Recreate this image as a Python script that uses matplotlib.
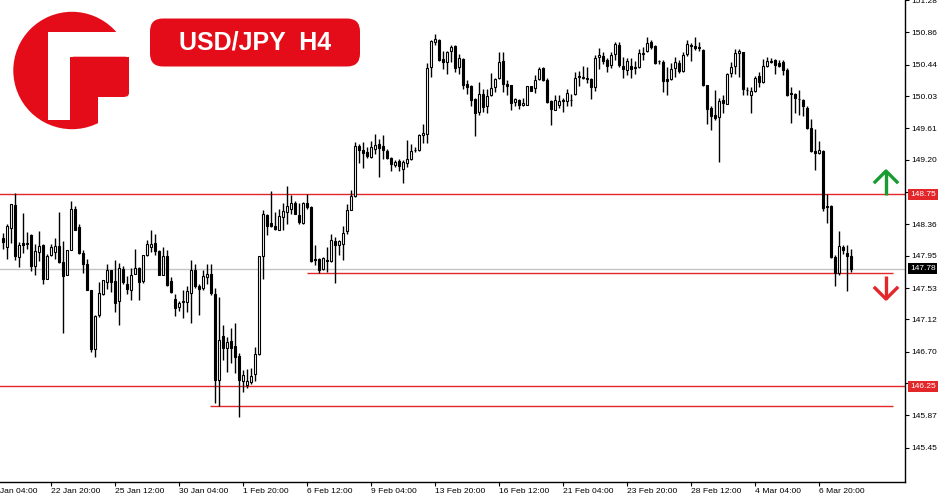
import numpy as np
import matplotlib
matplotlib.use("Agg")
import matplotlib.pyplot as plt
from matplotlib.patches import Circle, Rectangle, FancyBboxPatch
from matplotlib.transforms import blended_transform_factory

plt.rcParams["font.family"] = ["Liberation Sans", "DejaVu Sans"]

# ----------------------------
# H4 candles
# ----------------------------
opens = [
    148.182, 148.065, 148.312, 148.607, 147.935, 148.117, 148.108, 148.217, 147.818, 148.000,
    148.087, 147.649, 147.957, 148.000, 148.074, 147.870, 147.705, 148.030, 148.564, 148.325,
    147.987, 147.848, 147.502, 146.730, 147.176, 147.458, 147.610, 147.762, 147.623, 147.363,
    147.783, 147.580, 147.502, 147.718, 147.796, 147.623, 147.957, 148.065, 148.117, 148.009,
    147.705, 147.944, 147.619, 147.385, 147.285, 147.350, 147.350, 147.471, 147.770, 147.554,
    147.536, 147.675, 147.718, 147.458, 146.331, 146.903, 146.743, 146.838, 146.778, 146.643,
    146.318, 146.266, 146.305, 146.405, 146.669, 147.952, 148.477, 148.377, 148.334, 148.290,
    148.455, 148.520, 148.564, 148.637, 148.485, 148.377, 148.637, 148.585, 147.905, 147.913,
    147.783, 147.900, 147.883, 148.139, 148.095, 148.108, 148.273, 148.550, 148.724, 149.374,
    149.331, 149.296, 149.235, 149.344, 149.400, 149.374, 149.309, 149.227, 149.135, 149.179,
    149.083, 149.157, 149.214, 149.331, 149.322, 149.517, 149.538, 150.405, 150.730, 150.765,
    150.514, 150.470, 150.613, 150.687, 150.405, 150.514, 150.180, 150.154, 149.993, 149.820,
    150.050, 149.894, 150.037, 150.145, 150.262, 150.492, 150.180, 150.167, 149.950, 149.972,
    149.907, 149.915, 150.154, 150.132, 150.253, 150.396, 150.232, 149.963, 149.850, 149.915,
    149.980, 149.963, 149.972, 150.050, 150.275, 150.275, 150.266, 150.245, 150.145, 150.544,
    150.557, 150.501, 150.435, 150.579, 150.696, 150.427, 150.375, 150.427, 150.405, 150.405,
    150.579, 150.613, 150.739, 150.687, 150.492, 150.479, 150.245, 150.245, 150.392, 150.457,
    150.353, 150.579, 150.700, 150.687, 150.674, 150.631, 150.167, 149.876, 149.777, 149.755,
    149.972, 149.928, 150.327, 150.418, 150.590, 150.600, 150.110, 150.045, 150.089, 150.284,
    150.210, 150.418, 150.483, 150.501, 150.457, 150.470, 150.371, 150.067, 150.050, 149.993,
    149.980, 149.872, 149.612, 149.309, 149.287, 149.309, 148.598, 148.598, 147.935, 147.726,
    148.065, 147.987, 147.943,
]
highs = [
    148.247, 148.368, 148.629, 148.767, 148.130, 148.507, 148.260, 148.230, 148.100, 148.273,
    148.108, 147.970, 148.108, 148.186, 148.516, 148.139, 148.030, 148.663, 148.594, 148.368,
    148.022, 147.913, 147.510, 147.176, 147.610, 147.640, 147.848, 147.770, 147.900, 147.857,
    147.814, 147.684, 147.796, 148.043, 147.805, 147.965, 148.160, 148.290, 148.230, 148.022,
    148.065, 148.022, 147.675, 147.458, 147.363, 147.502, 147.554, 147.892, 147.848, 147.588,
    147.770, 147.848, 147.848, 147.536, 147.415, 147.046, 146.895, 147.003, 147.068, 146.687,
    146.461, 146.470, 146.483, 146.765, 147.952, 148.551, 148.490, 148.793, 148.520, 148.564,
    148.637, 148.854, 148.737, 148.663, 148.637, 148.650, 148.750, 148.598, 148.087, 147.926,
    147.935, 148.065, 148.230, 148.195, 148.152, 148.334, 148.628, 148.810, 149.430, 149.409,
    149.430, 149.365, 149.443, 149.539, 149.474, 149.517, 149.344, 149.235, 149.201, 149.214,
    149.201, 149.461, 149.400, 149.365, 149.539, 149.660, 150.457, 150.765, 150.839, 150.774,
    150.613, 150.613, 150.700, 150.700, 150.579, 150.527, 150.232, 150.167, 150.006, 150.210,
    150.123, 150.123, 150.327, 150.266, 150.609, 150.609, 150.240, 150.176, 150.002, 149.985,
    150.006, 150.162, 150.158, 150.297, 150.405, 150.405, 150.266, 149.972, 150.037, 150.037,
    150.006, 150.123, 150.058, 150.349, 150.362, 150.427, 150.414, 150.266, 150.566, 150.657,
    150.600, 150.527, 150.600, 150.730, 150.739, 150.535, 150.527, 150.527, 150.492, 150.644,
    150.665, 150.804, 150.765, 150.696, 150.501, 150.501, 150.405, 150.457, 150.544, 150.501,
    150.600, 150.765, 150.717, 150.804, 150.730, 150.644, 150.176, 149.894, 150.110, 150.002,
    150.037, 150.327, 150.470, 150.644, 150.644, 150.609, 150.145, 150.145, 150.284, 150.340,
    150.514, 150.535, 150.527, 150.514, 150.501, 150.501, 150.397, 150.145, 150.067, 150.102,
    149.993, 149.894, 149.733, 149.603, 149.439, 149.322, 148.758, 148.606, 147.956, 148.268,
    148.095, 148.087, 148.043,
]
lows = [
    148.043, 147.905, 148.117, 147.892, 147.805, 147.987, 148.043, 147.753, 147.697, 147.883,
    147.588, 147.645, 147.944, 147.913, 147.857, 146.947, 147.697, 148.022, 148.282, 147.978,
    147.727, 147.502, 146.691, 146.626, 147.155, 147.436, 147.523, 147.480, 147.220, 147.046,
    147.588, 147.458, 147.372, 147.710, 147.380, 147.597, 147.944, 148.000, 147.957, 147.697,
    147.697, 147.554, 147.471, 147.163, 147.233, 147.133, 147.220, 147.068, 147.536, 147.176,
    147.510, 147.588, 147.436, 146.036, 145.993, 146.591, 146.440, 146.557, 146.427, 145.854,
    146.180, 146.223, 146.279, 146.323, 146.656, 147.653, 148.217, 148.325, 148.282, 148.282,
    148.282, 148.368, 148.499, 148.490, 148.368, 148.368, 148.564, 147.870, 147.827, 147.727,
    147.770, 147.740, 147.870, 147.597, 147.956, 147.900, 148.238, 148.542, 148.715, 149.157,
    149.096, 149.227, 149.227, 149.279, 148.975, 149.214, 149.214, 149.053, 149.105, 149.053,
    148.897, 149.105, 149.201, 149.300, 149.313, 149.417, 149.417, 150.275, 150.700, 150.492,
    150.383, 150.310, 150.470, 150.340, 150.318, 150.123, 150.050, 149.894, 149.508, 149.785,
    149.820, 149.811, 150.024, 150.080, 150.253, 150.080, 150.037, 149.850, 149.894, 149.863,
    149.902, 149.907, 150.089, 150.067, 150.240, 150.219, 149.937, 149.655, 149.842, 149.876,
    149.820, 149.894, 149.894, 150.037, 150.154, 150.253, 150.197, 149.985, 150.089, 150.383,
    150.448, 150.340, 150.392, 150.501, 150.405, 150.266, 150.297, 150.266, 150.318, 150.396,
    150.501, 150.600, 150.644, 150.448, 150.448, 150.080, 150.037, 150.232, 150.275, 150.327,
    150.340, 150.557, 150.492, 150.631, 150.622, 150.158, 149.668, 149.590, 149.712, 149.170,
    149.807, 149.920, 150.275, 150.318, 150.275, 150.037, 150.037, 149.807, 150.080, 150.145,
    150.202, 150.405, 150.457, 150.319, 150.414, 150.306, 150.024, 149.677, 149.807, 149.777,
    149.764, 149.603, 149.300, 149.062, 149.278, 148.528, 148.377, 147.926, 147.557, 147.696,
    147.978, 147.492, 147.739,
]
closes = [
    148.130, 148.334, 148.620, 147.944, 148.095, 148.095, 148.117, 147.818, 148.013, 148.074,
    147.649, 147.944, 148.069, 148.074, 147.870, 147.688, 148.022, 148.555, 148.290, 147.987,
    147.848, 147.510, 146.730, 147.163, 147.471, 147.632, 147.762, 147.610, 147.341, 147.796,
    147.610, 147.515, 147.697, 147.796, 147.610, 147.957, 148.100, 148.100, 148.009, 147.697,
    147.944, 147.567, 147.480, 147.276, 147.341, 147.359, 147.489, 147.762, 147.554, 147.519,
    147.684, 147.718, 147.467, 146.331, 146.851, 146.752, 146.821, 146.752, 146.635, 146.331,
    146.392, 146.318, 146.383, 146.669, 147.944, 148.490, 148.338, 148.338, 148.303, 148.464,
    148.529, 148.594, 148.642, 148.499, 148.390, 148.642, 148.585, 147.883, 147.900, 147.762,
    147.922, 147.883, 148.152, 148.095, 148.139, 148.251, 148.542, 148.724, 149.374, 149.331,
    149.287, 149.248, 149.365, 149.387, 149.357, 149.331, 149.227, 149.148, 149.170, 149.114,
    149.170, 149.214, 149.309, 149.322, 149.517, 149.547, 150.396, 150.752, 150.774, 150.501,
    150.470, 150.609, 150.674, 150.396, 150.527, 150.175, 150.145, 149.980, 149.811, 150.058,
    149.885, 150.024, 150.136, 150.245, 150.479, 150.188, 150.154, 149.937, 149.985, 149.915,
    149.937, 150.154, 150.093, 150.240, 150.383, 150.232, 149.950, 149.863, 149.972, 149.959,
    149.959, 150.067, 149.980, 150.266, 150.284, 150.266, 150.249, 150.145, 150.527, 150.570,
    150.483, 150.418, 150.566, 150.709, 150.435, 150.383, 150.492, 150.383, 150.401, 150.592,
    150.587, 150.722, 150.665, 150.462, 150.483, 150.219, 150.223, 150.383, 150.479, 150.353,
    150.570, 150.709, 150.678, 150.652, 150.652, 150.175, 149.863, 149.768, 149.746, 149.959,
    149.937, 150.318, 150.405, 150.592, 150.610, 150.123, 150.102, 150.089, 150.267, 150.210,
    150.427, 150.492, 150.475, 150.436, 150.427, 150.371, 150.037, 150.050, 150.002, 149.989,
    149.894, 149.612, 149.309, 149.287, 149.330, 148.572, 148.585, 147.935, 147.726, 148.073,
    148.021, 147.943, 147.780,
]

# bar index of each date label (H4 bars, 16 bars apart)
date_pos = [-4, 12, 28, 44, 60, 76, 92, 108, 124, 140, 156, 172, 188, 204]
date_labels = ["18 Jan 04:00", "22 Jan 20:00", "25 Jan 12:00", "30 Jan 04:00",
               "1 Feb 20:00", "6 Feb 12:00", "9 Feb 04:00", "13 Feb 20:00",
               "16 Feb 12:00", "21 Feb 04:00", "23 Feb 20:00", "28 Feb 12:00",
               "4 Mar 04:00", "6 Mar 20:00"]
price_ticks = [145.45, 145.87, 146.29, 146.70, 147.12, 147.53, 147.95,
               148.36, 148.78, 149.20, 149.61, 150.03, 150.44, 150.86, 151.28]

resistance = 148.75
support = 146.25
last_price = 147.78
level_mid = 147.72      # short line from 6 Feb
level_low = 145.99      # short line from 30 Jan
level_mid_start = 76
level_low_start = 51.75

RED = "#e3262a"
LOGO_RED = "#e30c18"
XFS = 6.1

# ----------------------------
# Chart
# ----------------------------
o = np.array(opens)
h = np.array(highs)
l = np.array(lows)
c = np.array(closes)
x = np.arange(len(o))
bull = c >= o

fig = plt.figure(figsize=(9.5, 5), dpi=100)
fig.patch.set_facecolor("white")
ax = fig.add_axes([0, 18 / 500, 905 / 950, 482 / 500])

ax.vlines(x, l, h, color="black", lw=1, zorder=2)
body = np.maximum(np.abs(c - o), 0.002)
ax.bar(x, body, bottom=np.minimum(o, c), width=0.72,
       color=np.where(bull, "white", "black"), edgecolor="black",
       linewidth=0.8, zorder=3)

ax.axhline(last_price, color="#c4c4c4", lw=1, zorder=1)
ax.axhline(resistance, color=RED, lw=1, zorder=1.5)
ax.axhline(support, color=RED, lw=1, zorder=1.5)
ax.hlines(level_mid, level_mid_start, 222.5, color=RED, lw=1, zorder=1.5)
ax.hlines(level_low, level_low_start, 222.5, color=RED, lw=1, zorder=1.5)

ax.set_xlim(-0.75, 225.5)
ax.set_ylim(145.004, 151.272)

ax.spines["left"].set_visible(False)
ax.spines["top"].set_visible(False)
for s in ["right", "bottom"]:
    ax.spines[s].set_color("black")
    ax.spines[s].set_linewidth(1)

ax.yaxis.tick_right()
ax.set_yticks(price_ticks)
ax.set_yticklabels([f"{v:.2f}" for v in price_ticks])
ax.tick_params(axis="y", direction="out", length=3, width=0.8, pad=1.5,
               labelsize=6, colors="black")

ax.set_xticks(date_pos[1:])
ax.set_xticklabels(date_labels[1:], ha="left")
ax.tick_params(axis="x", direction="out", length=3, width=0.8, pad=1.5,
               labelsize=XFS, colors="black")
# first label sits left of the visible area and is cut by the image edge
ax.text(date_pos[0] + 0.3, -0.0125, date_labels[0],
        transform=blended_transform_factory(ax.transData, ax.transAxes),
        ha="left", va="top", fontsize=XFS, clip_on=False)

# price tags on the axis
tag = blended_transform_factory(ax.transAxes, ax.transData)
for val, col in [(resistance, RED), (last_price, "black"), (support, RED)]:
    ax.text(1.0 + 5 / 905, val, f"{val:.2f}", transform=tag, ha="left", va="center",
            fontsize=6, color="white", zorder=10,
            bbox=dict(boxstyle="square,pad=0.22", fc=col, ec="none"))

# ----------------------------
# Overlay: logo, title, arrows (pixel coords)
# ----------------------------
ov = fig.add_axes([0, 0, 1, 1], zorder=5)
ov.set_xlim(0, 950)
ov.set_ylim(500, 0)
ov.axis("off")
ov.patch.set_alpha(0)

ov.add_patch(Circle((72, 70.5), 58.7, color=LOGO_RED, lw=0))
ov.add_patch(Rectangle((48.3, 31.7), 21.7, 88.3, color="white", lw=0))
ov.add_patch(Rectangle((70, 31.7), 75, 25, color="white", lw=0))
ov.add_patch(Rectangle((98.3, 96.7), 45, 45, color="white", lw=0))
ov.add_patch(Rectangle((129, 56), 16, 42, color="white", lw=0))
ov.add_patch(FancyBboxPatch((70, 56.7), 59, 40, boxstyle="round,pad=0,rounding_size=4",
                            color=LOGO_RED, lw=0))

ov.add_patch(FancyBboxPatch((150, 18.5), 210, 48, boxstyle="round,pad=0,rounding_size=13",
                            color=LOGO_RED, lw=0))
ov.text(255, 43, "USD/JPY  H4", color="white", fontsize=18, fontweight="bold",
        ha="center", va="center")

GREEN = "#1a9b32"
ov.plot([886, 886], [195, 171], color=GREEN, lw=2.4, solid_capstyle="butt")
ov.plot([875, 886, 897], [182, 171, 182], color=GREEN, lw=2.4)
ov.plot([886, 886], [276, 299], color=RED, lw=2.4, solid_capstyle="butt")
ov.plot([875, 886, 897], [288, 299, 288], color=RED, lw=2.4)

fig.savefig("out.png", dpi=100, facecolor="white")
